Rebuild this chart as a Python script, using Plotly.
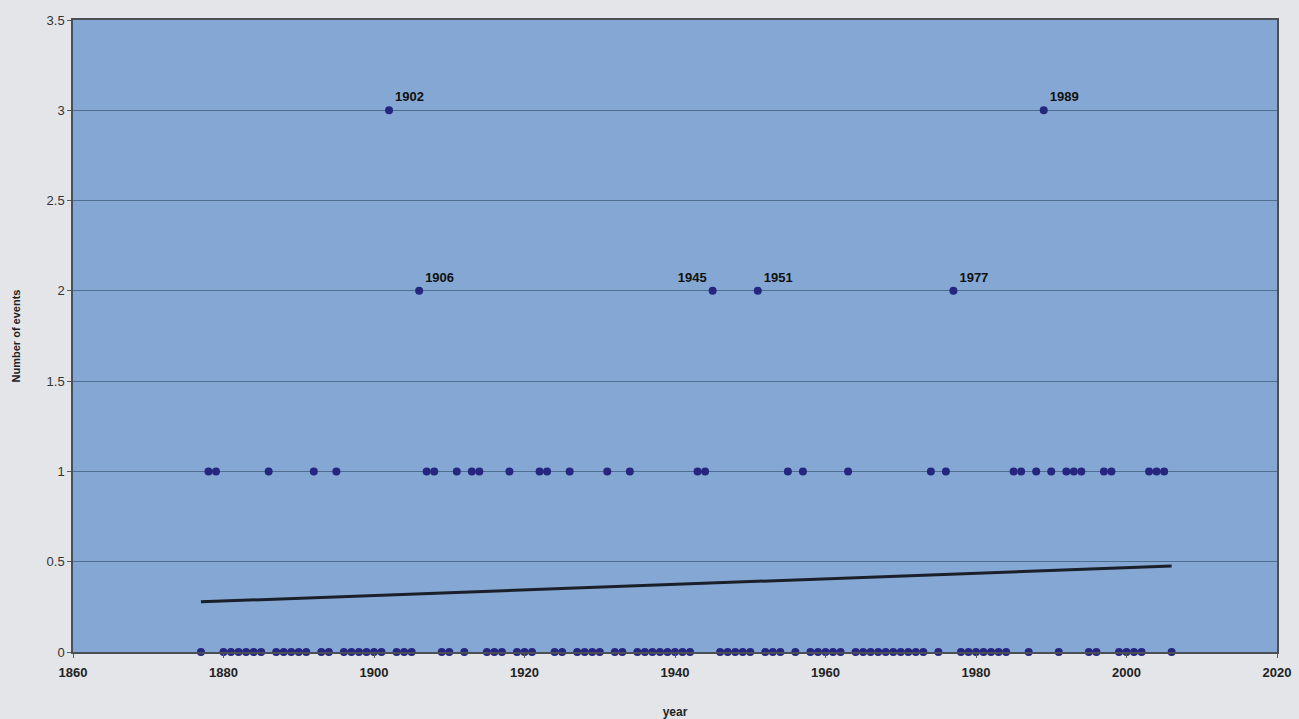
import numpy as np
import plotly.graph_objects as go

# Years with a given number of recorded events (1877-2006)
years_0 = [1877, 1880, 1881, 1882, 1883, 1884, 1885, 1887, 1888, 1889, 1890, 1891,
           1893, 1894, 1896, 1897, 1898, 1899, 1900, 1901, 1903, 1904, 1905,
           1909, 1910, 1912, 1915, 1916, 1917, 1919, 1920, 1921, 1924, 1925,
           1927, 1928, 1929, 1930, 1932, 1933, 1935, 1936, 1937, 1938, 1939,
           1940, 1941, 1942, 1946, 1947, 1948, 1949, 1950, 1952, 1953, 1954,
           1956, 1958, 1959, 1960, 1961, 1962, 1964, 1965, 1966, 1967, 1968,
           1969, 1970, 1971, 1972, 1973, 1975, 1978, 1979, 1980, 1981, 1982,
           1983, 1984, 1987, 1991, 1995, 1996, 1999, 2000, 2001, 2002, 2006]
years_1 = [1878, 1879, 1886, 1892, 1895, 1907, 1908, 1911, 1913, 1914, 1918,
           1922, 1923, 1926, 1931, 1934, 1943, 1944, 1955, 1957, 1963, 1974,
           1976, 1985, 1986, 1988, 1990, 1992, 1993, 1994, 1997, 1998, 2003,
           2004, 2005]
years_2 = [1906, 1945, 1951, 1977]
years_3 = [1902, 1989]

# Years that get a text label
labelled_years = [1902, 1906, 1945, 1951, 1977, 1989]

x_ticks = [1860, 1880, 1900, 1920, 1940, 1960, 1980, 2000, 2020]
y_ticks = [0, 0.5, 1, 1.5, 2, 2.5, 3, 3.5]

# Assemble year/count pairs, sorted by year
pairs = sorted([(y, 0) for y in years_0] + [(y, 1) for y in years_1]
               + [(y, 2) for y in years_2] + [(y, 3) for y in years_3])
years = np.array([p[0] for p in pairs])
counts = np.array([p[1] for p in pairs])

# Linear trend over the whole record
slope, intercept = np.polyfit(years, counts, 1)
trend_x = np.array([years.min(), years.max()])
trend_y = slope * trend_x + intercept

label_pos = {1945: "top left"}
text = [f"<b>{y}</b>" if y in labelled_years else "" for y in years]
positions = [label_pos.get(y, "top right") for y in years]

fig = go.Figure()
fig.add_trace(go.Scatter(
    x=trend_x, y=trend_y, mode="lines",
    line=dict(color="#1a1f2a", width=3),
    hoverinfo="skip", showlegend=False,
))
fig.add_trace(go.Scatter(
    x=years, y=counts, mode="markers+text",
    marker=dict(symbol="circle", size=8, color="#26257f",
                line=dict(width=0)),
    text=text, textposition=positions,
    textfont=dict(family="Liberation Sans, Arial", size=13, color="#111111"),
    showlegend=False, cliponaxis=False,
))

fig.update_layout(
    width=1299, height=719,
    margin=dict(l=73, r=22, t=20, b=67),
    paper_bgcolor="#e3e5e8",
    plot_bgcolor="#84a8d3",
    font=dict(family="Liberation Sans, Arial", color="#222222"),
    showlegend=False,
)
fig.update_xaxes(
    range=[1860, 2020], tickvals=x_ticks,
    ticktext=[f"<b>{v}</b>" for v in x_ticks],
    tickfont=dict(size=13, color="#222222"),
    showgrid=False, zeroline=False, automargin=False,
    showline=True, linecolor="#4a4f55", linewidth=1.5, mirror=True,
    ticks="outside", ticklen=4, tickcolor="#555a60", ticklabelstandoff=4,
    title=dict(text="<b>year</b>", font=dict(size=12, color="#222222"), standoff=30),
)
fig.update_yaxes(
    range=[0, 3.5], tickvals=y_ticks,
    ticktext=[f"{v:g}" for v in y_ticks],
    tickfont=dict(size=13, color="#333333"),
    showgrid=True, gridcolor="#4f6d8e", gridwidth=1,
    zeroline=False, automargin=False,
    showline=True, linecolor="#4a4f55", linewidth=1.5, mirror=True,
    ticks="outside", ticklen=4, tickcolor="#555a60",
    title=dict(text="<b>Number of events</b>", font=dict(size=11, color="#222222"), standoff=24),
)

fig.write_html("out.html")
